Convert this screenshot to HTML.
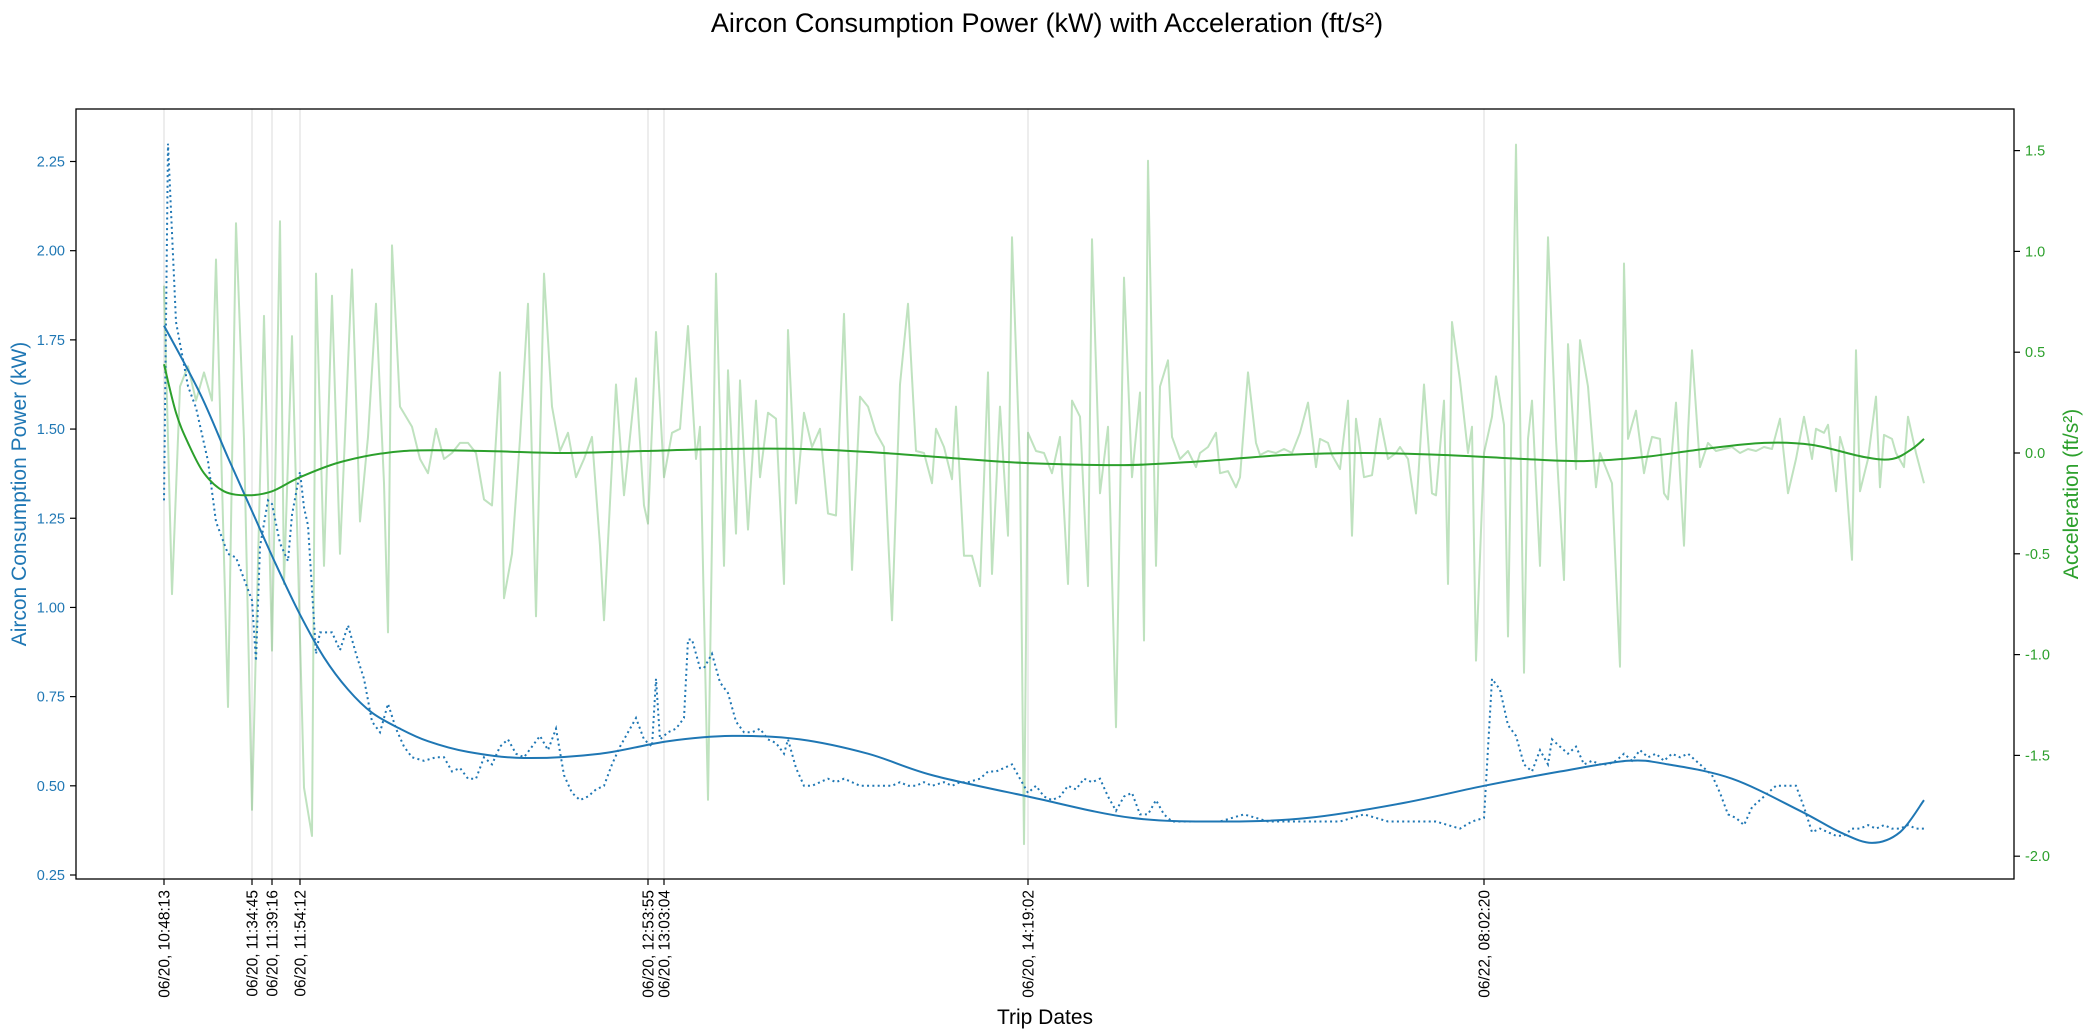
<!DOCTYPE html>
<html><head><meta charset="utf-8"><style>
html,body{margin:0;padding:0;background:#fff;}
svg{display:block;font-family:"Liberation Sans","DejaVu Sans",sans-serif;}
</style></head><body>
<svg id="chart" width="2092" height="1036" viewBox="0 0 2092 1036" xmlns="http://www.w3.org/2000/svg">
<text x="1047" y="32" text-anchor="middle" font-size="27" fill="#000">Aircon Consumption Power (kW) with Acceleration (ft/s²)</text>
<g id="grid"></g>
<g id="series"></g>
<rect x="76" y="109" width="1938" height="770" fill="none" stroke="#000" stroke-width="1.3"/>
<g id="axes"></g>
<text transform="translate(26,494) rotate(-90)" text-anchor="middle" font-size="21" fill="#1f77b4">Aircon Consumption Power (kW)</text>
<text transform="translate(2078,494) rotate(-90)" text-anchor="middle" font-size="21" fill="#2ca02c">Acceleration (ft/s²)</text>
<text x="1045" y="1024" text-anchor="middle" font-size="21" fill="#000">Trip Dates</text>
</svg>
<script>
const tickIdx=[0,22,27,34,121,125,216,330];
const tickLabels=["06/20, 10:48:13","06/20, 11:34:45","06/20, 11:39:16","06/20, 11:54:12","06/20, 12:53:55","06/20, 13:03:04","06/20, 14:19:02","06/22, 08:02:20"];
const leftTicks=[0.25,0.5,0.75,1.0,1.25,1.5,1.75,2.0,2.25];
const rightTicks=[-2.0,-1.5,-1.0,-0.5,0.0,0.5,1.0,1.5];
const accelRaw=[[0,0.83],[2,-0.70],[4,0.33],[6,0.43],[8,0.26],[10,0.40],[12,0.26],[13,0.96],[16,-1.26],[18,1.14],[20,0.07],[22,-1.77],[25,0.68],[27,-0.98],[29,1.15],[30,-0.65],[32,0.58],[35,-1.66],[37,-1.90],[38,0.89],[40,-0.56],[42,0.78],[44,-0.50],[47,0.91],[49,-0.34],[51,0.08],[53,0.74],[55,-0.15],[56,-0.89],[57,1.03],[59,0.23],[62,0.13],[64,-0.03],[66,-0.10],[68,0.12],[70,-0.03],[72,0.00],[74,0.05],[76,0.05],[78,0.00],[80,-0.23],[82,-0.26],[84,0.40],[85,-0.72],[87,-0.50],[89,0.07],[91,0.74],[93,-0.81],[95,0.89],[97,0.23],[99,0.01],[101,0.10],[103,-0.12],[105,-0.03],[107,0.08],[109,-0.46],[110,-0.83],[113,0.34],[115,-0.21],[118,0.37],[120,-0.26],[121,-0.35],[123,0.60],[125,-0.12],[127,0.10],[129,0.12],[131,0.63],[133,-0.03],[134,0.13],[136,-1.72],[138,0.89],[140,-0.56],[141,0.41],[143,-0.40],[144,0.36],[146,-0.38],[148,0.26],[149,-0.12],[151,0.20],[153,0.17],[155,-0.65],[156,0.61],[158,-0.25],[160,0.20],[162,0.03],[164,0.12],[166,-0.30],[168,-0.31],[170,0.69],[172,-0.58],[174,0.28],[176,0.23],[178,0.10],[180,0.03],[182,-0.83],[184,0.34],[186,0.74],[188,0.01],[190,0.00],[192,-0.15],[193,0.12],[195,0.03],[197,-0.13],[198,0.23],[200,-0.51],[202,-0.51],[204,-0.66],[206,0.40],[207,-0.60],[209,0.23],[211,-0.41],[212,1.07],[214,-0.07],[215,-1.94],[216,0.10],[218,0.01],[220,0.00],[222,-0.10],[224,0.08],[226,-0.65],[227,0.26],[229,0.18],[231,-0.66],[232,1.06],[234,-0.20],[236,0.13],[238,-1.36],[240,0.87],[242,-0.12],[244,0.30],[245,-0.93],[246,1.45],[248,-0.56],[249,0.33],[251,0.46],[252,0.08],[254,-0.03],[256,0.01],[258,-0.07],[259,0.00],[261,0.03],[263,0.10],[264,-0.10],[266,-0.09],[268,-0.17],[269,-0.12],[271,0.40],[273,0.05],[274,-0.01],[276,0.01],[278,0.00],[280,0.02],[282,0.00],[284,0.10],[286,0.25],[288,-0.07],[289,0.07],[291,0.05],[292,-0.01],[294,-0.08],[296,0.26],[297,-0.41],[298,0.17],[300,-0.12],[302,-0.11],[304,0.17],[306,-0.03],[308,0.00],[309,0.03],[311,-0.03],[313,-0.30],[315,0.34],[317,-0.20],[318,-0.21],[320,0.26],[321,-0.65],[322,0.65],[324,0.36],[326,0.00],[327,0.13],[328,-1.03],[330,0.00],[332,0.18],[333,0.38],[335,0.14],[336,-0.91],[338,1.53],[340,-1.09],[341,0.07],[342,0.26],[344,-0.56],[346,1.07],[348,0.07],[350,-0.63],[351,0.54],[353,-0.08],[354,0.56],[356,0.33],[358,-0.17],[359,0.00],[360,-0.05],[362,-0.15],[364,-1.06],[365,0.94],[366,0.07],[368,0.21],[370,-0.10],[371,0.00],[372,0.08],[374,0.07],[375,-0.20],[376,-0.23],[378,0.25],[380,-0.46],[381,0.10],[382,0.51],[384,-0.07],[386,0.05],[388,0.01],[390,0.02],[392,0.03],[394,0.00],[396,0.02],[398,0.01],[400,0.03],[402,0.02],[404,0.17],[406,-0.20],[408,-0.03],[410,0.18],[412,-0.03],[413,0.12],[415,0.10],[416,0.14],[418,-0.19],[419,0.08],[420,0.01],[422,-0.53],[423,0.51],[424,-0.19],[426,-0.03],[428,0.28],[429,-0.17],[430,0.09],[432,0.07],[433,0.00],[435,-0.07],[436,0.18],[438,0.00],[440,-0.15]];
const accelTrend=[[0,0.44],[3,0.20],[6,0.05],[10,-0.10],[15,-0.19],[21,-0.21],[27,-0.19],[34,-0.12],[45,-0.04],[60,0.01],[80,0.01],[100,0.00],[120,0.01],[140,0.02],[160,0.02],[180,0.00],[200,-0.03],[216,-0.05],[240,-0.06],[260,-0.04],[280,-0.01],[300,0.00],[320,-0.01],[340,-0.03],[355,-0.04],[370,-0.02],[385,0.02],[400,0.05],[412,0.04],[425,-0.02],[432,-0.03],[437,0.02],[440,0.07]];
const powerRaw=[[0,1.30],[1,2.30],[3,1.80],[6,1.62],[8,1.56],[11,1.41],[13,1.24],[16,1.15],[18,1.14],[20,1.08],[22,1.02],[23,0.85],[24,1.17],[26,1.30],[27,1.29],[29,1.18],[31,1.13],[32,1.26],[34,1.38],[35,1.28],[36,1.23],[38,0.87],[39,0.93],[42,0.93],[44,0.88],[46,0.95],[48,0.87],[50,0.80],[52,0.68],[54,0.65],[56,0.73],[58,0.66],[60,0.61],[62,0.58],[65,0.57],[68,0.58],[70,0.58],[72,0.54],[74,0.55],[76,0.52],[78,0.52],[80,0.58],[82,0.56],[84,0.61],[86,0.63],[88,0.59],[90,0.58],[92,0.61],[94,0.64],[96,0.60],[98,0.66],[100,0.53],[102,0.48],[104,0.46],[106,0.47],[108,0.49],[110,0.50],[112,0.56],[114,0.61],[116,0.65],[118,0.69],[120,0.63],[122,0.61],[123,0.80],[124,0.63],[126,0.65],[128,0.66],[130,0.69],[131,0.91],[132,0.91],[134,0.83],[135,0.83],[137,0.87],[139,0.79],[141,0.76],[143,0.68],[145,0.65],[147,0.65],[149,0.66],[151,0.63],[153,0.62],[155,0.59],[156,0.63],[158,0.55],[160,0.50],[162,0.50],[164,0.51],[166,0.52],[168,0.51],[170,0.52],[172,0.51],[174,0.50],[176,0.50],[178,0.50],[180,0.50],[182,0.50],[184,0.51],[186,0.50],[188,0.50],[190,0.51],[192,0.50],[195,0.51],[197,0.50],[199,0.51],[201,0.51],[204,0.52],[206,0.54],[208,0.54],[210,0.55],[212,0.56],[214,0.52],[216,0.48],[218,0.50],[220,0.47],[222,0.46],[224,0.47],[226,0.50],[228,0.49],[230,0.52],[232,0.51],[234,0.52],[236,0.47],[238,0.43],[240,0.47],[242,0.48],[244,0.42],[246,0.42],[248,0.46],[250,0.42],[252,0.40],[255,0.40],[258,0.40],[261,0.40],[264,0.40],[267,0.41],[270,0.42],[273,0.41],[276,0.40],[279,0.40],[282,0.40],[285,0.40],[288,0.40],[291,0.40],[294,0.40],[297,0.41],[300,0.42],[303,0.41],[306,0.40],[309,0.40],[312,0.40],[315,0.40],[318,0.40],[321,0.39],[324,0.38],[327,0.40],[330,0.41],[332,0.80],[334,0.77],[336,0.67],[338,0.64],[340,0.56],[342,0.54],[344,0.60],[346,0.56],[347,0.63],[349,0.61],[351,0.59],[353,0.61],[355,0.56],[357,0.57],[359,0.56],[361,0.56],[363,0.57],[365,0.59],[367,0.57],[369,0.60],[371,0.58],[373,0.59],[375,0.57],[377,0.59],[379,0.58],[381,0.59],[383,0.57],[385,0.55],[387,0.53],[389,0.48],[391,0.42],[393,0.41],[395,0.39],[397,0.44],[399,0.46],[401,0.48],[403,0.50],[406,0.50],[408,0.50],[410,0.44],[412,0.37],[414,0.38],[416,0.37],[418,0.36],[420,0.36],[422,0.38],[424,0.38],[426,0.39],[428,0.38],[430,0.39],[432,0.38],[434,0.38],[436,0.39],[438,0.38],[440,0.38]];
const powerTrend=[[0,1.79],[9,1.60],[16,1.42],[22,1.27],[28,1.12],[34,0.98],[40,0.86],[46,0.77],[52,0.705],[59,0.66],[66,0.625],[76,0.595],[90,0.578],[109,0.59],[126,0.625],[142,0.64],[159,0.63],[176,0.59],[192,0.53],[216,0.47],[242,0.41],[266,0.40],[286,0.41],[309,0.45],[330,0.50],[349,0.54],[366,0.57],[376,0.56],[392,0.52],[409,0.43],[419,0.37],[427,0.34],[434,0.37],[440,0.46]];

const NS="http://www.w3.org/2000/svg";
const X0=164,X1=1924,IMAX=440;
function xS(i){return X0+(i/IMAX)*(X1-X0);}
function yL(v){return 875-(v-0.25)*356.75;}
function yR(v){return 453-v*201.6;}
function mk(tag,attrs,parent){const e=document.createElementNS(NS,tag);for(const k in attrs)e.setAttribute(k,attrs[k]);parent.appendChild(e);return e;}
function linePath(pts,ys){return pts.map((p,k)=>(k?"L":"M")+xS(p[0]).toFixed(1)+","+ys(p[1]).toFixed(1)).join("");}
function smoothPath(pts,ys){
  const P=pts.map(p=>[xS(p[0]),ys(p[1])]);let d="M"+P[0][0]+","+P[0][1];
  for(let i=0;i<P.length-1;i++){const p0=P[Math.max(0,i-1)],p1=P[i],p2=P[i+1],p3=P[Math.min(P.length-1,i+2)];
    const c1=[p1[0]+(p2[0]-p0[0])/6,p1[1]+(p2[1]-p0[1])/6],c2=[p2[0]-(p3[0]-p1[0])/6,p2[1]-(p3[1]-p1[1])/6];
    d+="C"+c1[0].toFixed(1)+","+c1[1].toFixed(1)+" "+c2[0].toFixed(1)+","+c2[1].toFixed(1)+" "+p2[0].toFixed(1)+","+p2[1].toFixed(1);}
  return d;}
const grid=document.getElementById("grid"),series=document.getElementById("series"),axes=document.getElementById("axes");
tickIdx.forEach((t,k)=>{
  const gl=mk("line",{x1:xS(t),x2:xS(t),y1:109,y2:879,stroke:"#e3e3e3","stroke-width":1.3},grid);
  
  
  const tk=mk("line",{x1:xS(t),x2:xS(t),y1:879,y2:885,stroke:"#000","stroke-width":1.2},axes);
  
  
  const tx=mk("text",{transform:"translate("+(xS(t)+5.5)+",890) rotate(-90)","text-anchor":"end","font-size":15.5,fill:"#000"},axes);
  tx.textContent=tickLabels[k];
  
  
});
leftTicks.forEach(v=>{
  const tk=mk("line",{x1:70,x2:76,y1:yL(v),y2:yL(v),stroke:"#000","stroke-width":1.2},axes);
  
  
  const tx=mk("text",{x:65,y:yL(v)+5,"text-anchor":"end","font-size":14.5,fill:"#1f77b4"},axes);
  tx.textContent=v.toFixed(2);
  
  
});
rightTicks.forEach(v=>{
  const tk=mk("line",{x1:2014,x2:2020,y1:yR(v),y2:yR(v),stroke:"#000","stroke-width":1.2},axes);
  
  
  const tx=mk("text",{x:2025,y:yR(v)+5,"text-anchor":"start","font-size":14.5,fill:"#2ca02c"},axes);
  tx.textContent=v.toFixed(1);
  
  
});
const a1=mk("path",{d:linePath(accelRaw,yR),fill:"none",stroke:"#2ca02c","stroke-opacity":0.3,"stroke-width":2,"stroke-linejoin":"round"},series);


const p1=mk("path",{d:linePath(powerRaw,yL),fill:"none",stroke:"#1f77b4","stroke-width":2,"stroke-dasharray":"2 3.3"},series);


const p2=mk("path",{d:smoothPath(powerTrend,yL),fill:"none",stroke:"#1f77b4","stroke-width":2},series);


const a2=mk("path",{d:smoothPath(accelTrend,yR),fill:"none",stroke:"#2ca02c","stroke-width":2},series);


</script>
</body></html>
